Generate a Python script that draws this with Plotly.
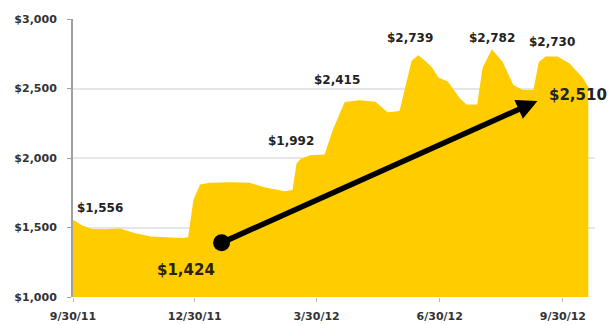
import plotly.graph_objects as go

# Closing values over the period (USD)
dates = [
    "2011-09-30", "2011-10-07", "2011-10-14", "2011-10-24", "2011-11-04",
    "2011-11-15", "2011-11-27", "2011-12-08", "2011-12-21", "2011-12-25",
    "2011-12-29", "2012-01-03", "2012-01-10", "2012-01-25", "2012-02-09",
    "2012-02-20", "2012-03-06", "2012-03-12", "2012-03-15", "2012-03-18",
    "2012-03-25", "2012-04-05", "2012-04-11", "2012-04-20", "2012-05-01",
    "2012-05-13", "2012-05-22", "2012-05-28", "2012-05-31", "2012-06-09",
    "2012-06-14", "2012-06-19", "2012-06-24", "2012-06-29", "2012-07-06",
    "2012-07-15", "2012-07-20", "2012-07-28", "2012-08-01", "2012-08-08",
    "2012-08-16", "2012-08-24", "2012-08-31", "2012-09-08", "2012-09-12",
    "2012-09-17", "2012-09-26", "2012-10-05", "2012-10-15", "2012-10-19",
]
values = [
    1556, 1515, 1490, 1488, 1492,
    1460, 1435, 1430, 1424, 1430,
    1700, 1810, 1822, 1826, 1822,
    1790, 1760, 1770, 1960, 1992,
    2020, 2025, 2200, 2403, 2415,
    2405, 2330, 2335, 2340, 2700,
    2739, 2700, 2655, 2580, 2550,
    2430, 2385, 2385, 2650, 2782,
    2690, 2525, 2490, 2490, 2690,
    2730, 2730, 2680, 2575, 2510,
]

# Quarter-end ticks
x_tick_dates = ["2011-09-30", "2011-12-30", "2012-03-30", "2012-06-30", "2012-09-30"]
x_tick_labels = ["9/30/11", "12/30/11", "3/30/12", "6/30/12", "9/30/12"]
y_tick_values = [1000, 1500, 2000, 2500, 3000]
y_tick_labels = [f"${v:,}" for v in y_tick_values]

# Highlighted points (dates of the series) and label offsets in px
peak_dates = ["2011-09-30", "2012-03-18", "2012-05-01", "2012-06-14", "2012-08-08", "2012-09-17"]
peak_offsets = [(27, 12), (-10, 18), (-22, 20), (-8, 17), (0, 11), (7, 15)]

# Trend arrow from the low to the latest value
trend_dates = ["2012-01-19", "2012-09-11"]
trend_values = [1390, 2410]
low_date, last_date = "2011-12-21", "2012-10-19"

YELLOW = "#FFCC00"
FONT = "DejaVu Sans"

value_of = dict(zip(dates, values))

fig = go.Figure()
fig.add_trace(go.Scatter(
    x=dates, y=values, mode="lines", fill="tozeroy",
    fillcolor=YELLOW, line=dict(color=YELLOW, width=0),
    hoverinfo="skip", showlegend=False,
))
fig.add_trace(go.Scatter(
    x=trend_dates[:1], y=trend_values[:1], mode="markers",
    marker=dict(color="#000000", size=17), showlegend=False,
))

annotations = [dict(
    x=trend_dates[1], y=trend_values[1], ax=trend_dates[0], ay=trend_values[0],
    xref="x", yref="y", axref="x", ayref="y", text="", showarrow=True,
    arrowhead=2, arrowsize=0.75, arrowwidth=5.5, arrowcolor="#000000",
)]
for d, (dx, dy) in zip(peak_dates, peak_offsets):
    annotations.append(dict(
        x=d, y=value_of[d], text=f"${value_of[d]:,}", showarrow=False,
        xshift=dx, yshift=dy, font=dict(family=FONT, size=12, color="#222222", weight="bold"),
    ))
annotations.append(dict(
    x=low_date, y=value_of[low_date], text=f"${value_of[low_date]:,}", showarrow=False,
    xshift=3, yshift=-32, font=dict(family=FONT, size=15, color="#2a2200", weight="bold"),
))
annotations.append(dict(
    x=last_date, y=value_of[last_date], text=f"${value_of[last_date]:,}", showarrow=False,
    xshift=-10, yshift=-8, font=dict(family=FONT, size=15, color="#222222", weight="bold"),
))

fig.update_layout(
    width=611, height=325,
    margin=dict(l=73, r=16, t=19, b=28),
    paper_bgcolor="white", plot_bgcolor="white",
    annotations=annotations,
    font=dict(family=FONT, size=11, color="#333333", weight="bold"),
    xaxis=dict(
        range=["2011-09-30", "2012-10-24"], tickvals=x_tick_dates, ticktext=x_tick_labels,
        showgrid=False, showline=False, ticks="outside", ticklen=4, tickcolor="#bbbbbb",
        ticklabelstandoff=5, automargin=False,
        zeroline=False, tickfont=dict(family=FONT, size=11, color="#333333", weight="bold"),
    ),
    yaxis=dict(
        range=[1000, 3000], tickvals=y_tick_values, ticktext=y_tick_labels,
        showgrid=True, gridcolor="#e6e6e6", gridwidth=1.5,
        showline=True, linecolor="#a0a0a0", linewidth=2,
        ticks="outside", ticklen=4, tickcolor="#a0a0a0", zeroline=False,
        ticklabelstandoff=8, automargin=False,
        tickfont=dict(family=FONT, size=11, color="#333333", weight="bold"),
    ),
)

fig.write_html("out.html")
